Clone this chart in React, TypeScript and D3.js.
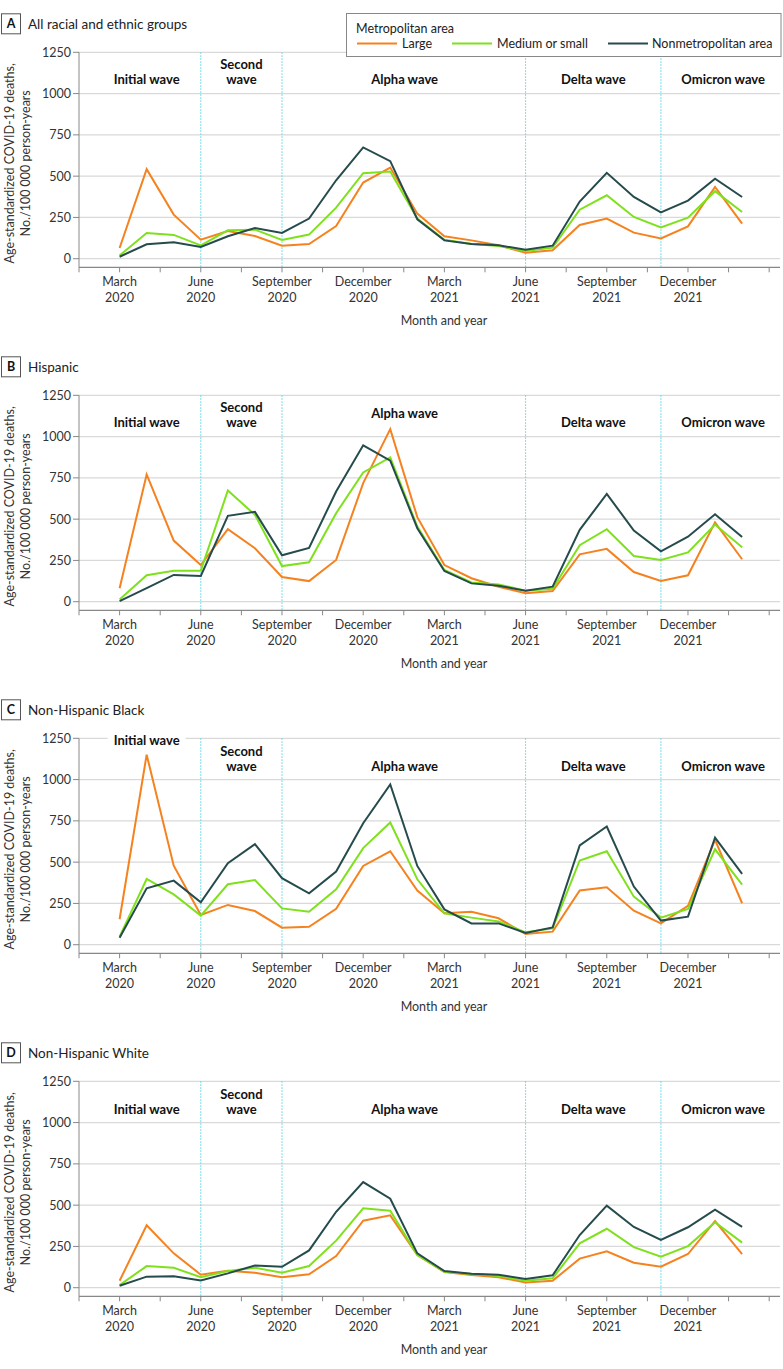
import React from "react";
import * as d3 from "d3";

const W = 783;
const H = 1369;

const months = d3.range(0, 24); // March 2020 (0) .. February 2022 (23)
const tickLabels = [
  ["March", "2020"], ["June", "2020"], ["September", "2020"], ["December", "2020"],
  ["March", "2021"], ["June", "2021"], ["September", "2021"], ["December", "2021"],
];
const tickLabelMonths = [0, 3, 6, 9, 12, 15, 18, 21];
const minorTicks = d3.range(-1.5, 24.01, 1.5);
const yTicks = [0, 250, 500, 750, 1000, 1250];
const waveDividers = [3, 6, 15, 20];

const seriesNames = ["Large", "Medium or small", "Nonmetropolitan area"];
const seriesColors = ["#f5821f", "#7fe11c", "#264b4c"];

const panelLetters = ["A", "B", "C", "D"];
const panelTitles = ["All racial and ethnic groups", "Hispanic", "Non-Hispanic Black", "Non-Hispanic White"];

// Panel A: All racial and ethnic groups
const allLarge = [65, 542, 267, 115, 168, 137, 79, 89, 198, 461, 552, 273, 136, 111, 81, 36, 51, 204, 243, 158, 123, 196, 435, 212];
const allMedium = [20, 156, 144, 81, 172, 176, 113, 146, 309, 518, 528, 243, 115, 89, 77, 47, 67, 297, 384, 253, 190, 249, 409, 283];
const allNonmetro = [12, 87, 99, 71, 136, 186, 156, 243, 475, 674, 591, 239, 111, 89, 81, 55, 79, 346, 520, 374, 281, 352, 485, 374];

// Panel B: Hispanic
const hispLarge = [81, 771, 370, 222, 439, 324, 150, 125, 253, 718, 1045, 512, 222, 142, 91, 51, 65, 287, 320, 180, 125, 160, 481, 257];
const hispMedium = [14, 160, 188, 188, 674, 526, 216, 239, 536, 783, 874, 455, 192, 117, 105, 67, 79, 342, 439, 277, 253, 299, 467, 330];
const hispNonmetro = [4, 82, 162, 156, 520, 544, 281, 326, 667, 947, 854, 445, 186, 111, 97, 67, 91, 435, 653, 431, 305, 394, 530, 392];

// Panel C: Non-Hispanic Black
const blackLarge = [154, 1151, 479, 180, 241, 204, 103, 109, 218, 477, 566, 328, 190, 200, 160, 65, 79, 328, 348, 206, 129, 235, 635, 251];
const blackMedium = [49, 398, 305, 176, 366, 392, 220, 200, 336, 585, 740, 396, 190, 164, 140, 75, 99, 510, 566, 291, 164, 216, 578, 364];
const blackNonmetro = [42, 342, 388, 257, 494, 609, 403, 311, 443, 736, 971, 477, 214, 129, 129, 71, 105, 601, 716, 352, 146, 170, 649, 429];

// Panel D: Non-Hispanic White
const whiteLarge = [42, 378, 208, 79, 103, 91, 63, 81, 192, 406, 438, 198, 95, 77, 63, 32, 42, 176, 220, 151, 127, 204, 404, 204];
const whiteMedium = [16, 131, 121, 63, 101, 121, 91, 131, 285, 481, 466, 198, 97, 83, 71, 42, 57, 269, 357, 246, 188, 252, 396, 273];
const whiteNonmetro = [12, 67, 69, 44, 87, 135, 127, 226, 460, 640, 539, 208, 101, 85, 79, 53, 75, 319, 497, 368, 289, 366, 473, 368];

const panelSeries = [
  [allLarge, allMedium, allNonmetro],
  [hispLarge, hispMedium, hispNonmetro],
  [blackLarge, blackMedium, blackNonmetro],
  [whiteLarge, whiteMedium, whiteNonmetro],
];

const waveNames = ["Initial wave", ["Second", "wave"], "Alpha wave", "Delta wave", "Omicron wave"];
const waveCenters = [1, 4.5, 10.53, 17.5, 22.3];
// vertical offsets (px below 1250 line) for each wave label in each panel
const waveOffsets = [
  [27, 27, 27, 27, 27],
  [27.5, 27.5, 18.5, 27.5, 27.5],
  [2, 28, 28, 28, 28],
  [28.5, 28.5, 28.5, 28.5, 28.5],
];

const FONT = "Lato, 'Open Sans', sans-serif";

const x = d3.scaleLinear().domain([-1.5, 24.4]).range([79, 780]);
const PANEL_STEP = 343;
const TOP0 = 52.3;

function Panel({ idx }: { idx: number }) {
  const top = TOP0 + idx * PANEL_STEP;
  const y = d3.scaleLinear().domain([-52, 1250]).range([top + 215, top]);
  const axisY = y(-52);
  const line = d3
    .line<number>()
    .x((_, i) => x(months[i]))
    .y((d) => y(d));
  const titleY = top - 28.5;
  return (
    <g>
      {/* panel label */}
      <rect x={1.5} y={titleY - 10} width={19} height={20} fill="#fff" stroke="#555" strokeWidth={1} />
      <text x={11} y={titleY + 4.5} textAnchor="middle" fontWeight={700} fontSize={12.5} fill="#111">
        {panelLetters[idx]}
      </text>
      <text x={28} y={titleY + 4.8} fontSize={13.5} fill="#222">
        {panelTitles[idx]}
      </text>
      {/* gridlines */}
      {yTicks.map((t) => (
        <line key={t} x1={79} x2={780} y1={y(t)} y2={y(t)} stroke="#d9d9d9" strokeWidth={1.2} />
      ))}
      {/* wave dividers */}
      {waveDividers.map((m) => (
        <line key={m} x1={x(m)} x2={x(m)} y1={y(1250)} y2={axisY} stroke="#4fd6e6" strokeWidth={1} strokeDasharray="1.5,1.5" />
      ))}
      {/* y axis */}
      <line x1={79} x2={79} y1={y(1250)} y2={axisY} stroke="#888" strokeWidth={1} />
      {yTicks.map((t) => (
        <g key={t}>
          <line x1={73} x2={79} y1={y(t)} y2={y(t)} stroke="#888" strokeWidth={1} />
          <text x={71} y={y(t) + 4.5} textAnchor="end" fontSize={12.5} fill="#333">
            {t}
          </text>
        </g>
      ))}
      {/* x axis */}
      <line x1={79} x2={780} y1={axisY} y2={axisY} stroke="#888" strokeWidth={1.2} />
      {minorTicks.map((m) => (
        <line key={m} x1={x(m)} x2={x(m)} y1={axisY} y2={axisY + 5} stroke="#888" strokeWidth={1} />
      ))}
      {tickLabelMonths.map((m, i) => (
        <text key={m} x={x(m)} textAnchor="middle" fontSize={12.5} fill="#333">
          <tspan x={x(m)} y={axisY + 19}>{tickLabels[i][0]}</tspan>
          <tspan x={x(m)} y={axisY + 34.5}>{tickLabels[i][1]}</tspan>
        </text>
      ))}
      <text x={444} y={axisY + 57.5} textAnchor="middle" fontSize={12.5} fill="#333">
        Month and year
      </text>
      {/* y axis title */}
      <text transform={`translate(14, ${top + 111}) rotate(-90)`} textAnchor="middle" fontSize={12.5} fill="#333">
        Age-standardized COVID-19 deaths,
      </text>
      <text transform={`translate(30, ${top + 111}) rotate(-90)`} textAnchor="middle" fontSize={12.5} fill="#333">
        No./100 000 person-years
      </text>
      {/* wave labels */}
      {waveNames.map((name, i) => {
        const cx = x(waveCenters[i]);
        const cy = y(1250) + waveOffsets[idx][i];
        if (Array.isArray(name)) {
          return (
            <text key={i} textAnchor="middle" fontWeight={700} fontSize={13} fill="#111">
              <tspan x={cx} y={cy - 15 + 4.5}>{name[0]}</tspan>
              <tspan x={cx} y={cy + 4.5}>{name[1]}</tspan>
            </text>
          );
        }
        const withBg = idx === 2 && i === 0;
        return (
          <g key={i}>
            {withBg && <rect x={cx - 39} y={cy - 9} width={78} height={18} fill="#fff" />}
            <text x={cx} y={cy + 4.5} textAnchor="middle" fontWeight={700} fontSize={13} fill="#111">
              {name}
            </text>
          </g>
        );
      })}
      {/* series */}
      {panelSeries[idx].map((vals, s) => (
        <path key={s} d={line(vals) || ""} fill="none" stroke={seriesColors[s]} strokeWidth={2} strokeLinejoin="miter" />
      ))}
    </g>
  );
}

function Legend() {
  const lx = [357, 452, 608];
  const tx = [402, 497, 652];
  return (
    <g>
      <rect x={346.5} y={13.5} width={434.5} height={43} fill="#fff" stroke="#888" strokeWidth={1} />
      <text x={356} y={32.5} fontSize={12.5} fill="#222">
        Metropolitan area
      </text>
      {seriesNames.map((n, i) => (
        <g key={n}>
          <line x1={lx[i]} x2={lx[i] + 40} y1={43.5} y2={43.5} stroke={seriesColors[i]} strokeWidth={2} />
          <text x={tx[i]} y={48} fontSize={12.5} fill="#222">
            {n}
          </text>
        </g>
      ))}
    </g>
  );
}

export default function App() {
  return (
    <svg width={W} height={H} style={{ display: "block", position: "absolute", left: 0, top: 0, background: "#fff" }} fontFamily={FONT}>
      <rect width={W} height={H} fill="#fff" />
      {[0, 1, 2, 3].map((i) => (
        <Panel key={i} idx={i} />
      ))}
      <Legend />
    </svg>
  );
}
